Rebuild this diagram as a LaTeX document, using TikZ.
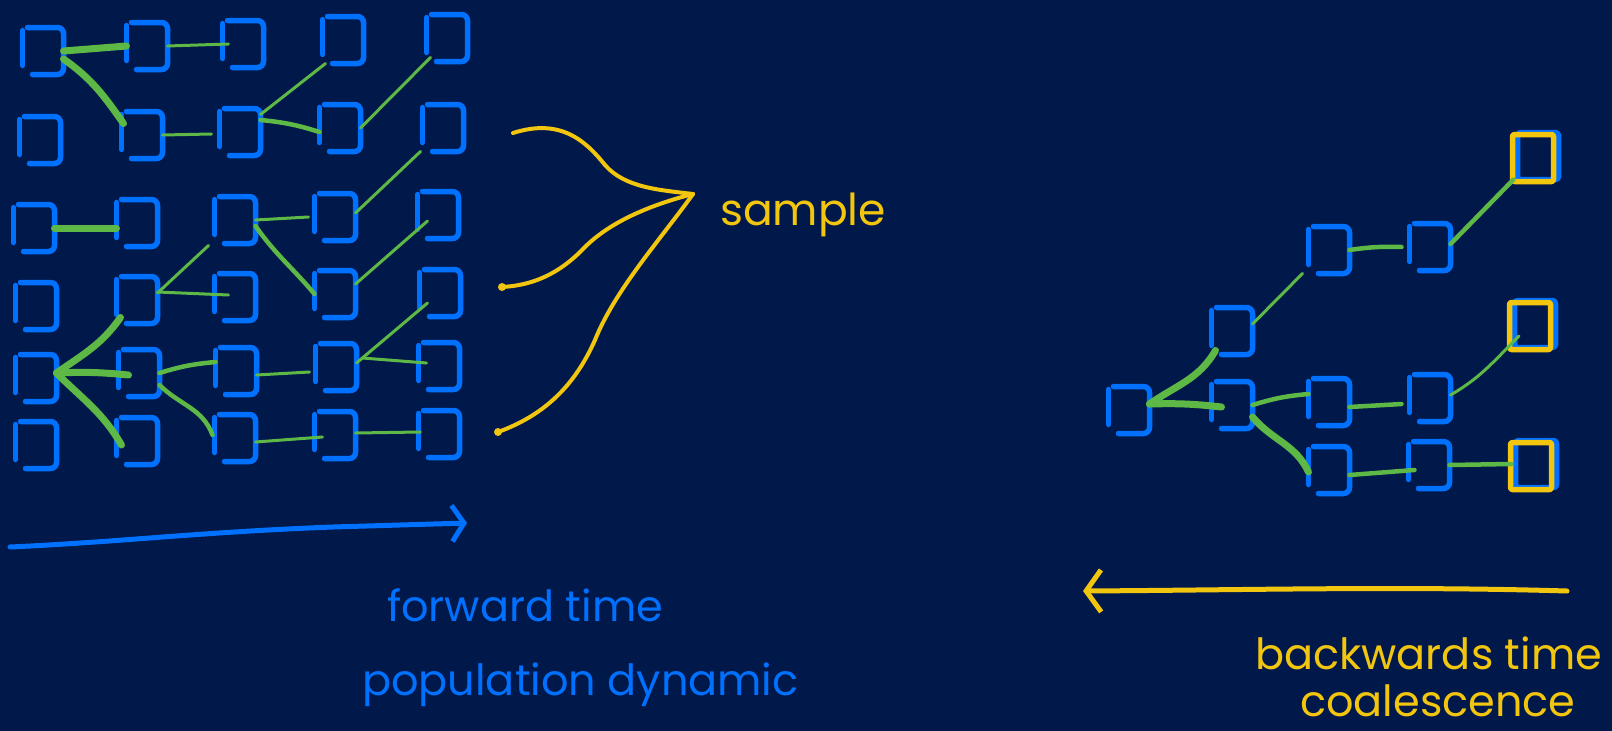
\documentclass[tikz,border=0pt]{standalone}
\usepackage{fontspec}
\setmainfont{Poppins}
\usetikzlibrary{arrows.meta}
\definecolor{bg}{HTML}{01184A}
\definecolor{bblue}{HTML}{0070FF}
\definecolor{lgreen}{HTML}{5EB846}
\definecolor{syellow}{HTML}{F2C50F}
\tikzset{
  box/.style={minimum width=41pt, minimum height=47pt, inner sep=0pt, outer sep=0pt},
  boxline/.style={draw=bblue, line width=5.5pt, line cap=round, line join=round},
  ybox/.style={draw=syellow, line width=5.5pt, line cap=round, line join=round, rounded corners=2pt},
  thinl/.style={draw=lgreen, line width=3pt, line cap=round},
  midl/.style={draw=lgreen, line width=4.5pt, line cap=round},
  thickl/.style={draw=lgreen, line width=7pt, line cap=round},
  samplel/.style={draw=syellow, line width=4pt, line cap=round},
  lbl/.style={font=\fontsize{43pt}{50pt}\selectfont, inner sep=0pt},
}
\newcommand\handbox[1]{%
  \draw[boxline, rounded corners=6pt] ([xshift=5pt]#1.north west) -- (#1.north east) -- (#1.south east) -- ([xshift=10pt]#1.south west);
  \draw[boxline] ([yshift=-3pt]#1.north west) -- ([yshift=9pt]#1.south west);
}
\begin{document}
\begin{tikzpicture}[x=1pt, y=-1pt]
\fill[bg] (0,0) rectangle (1612,731);
\useasboundingbox (0,0) rectangle (1612,731);

% left grid
\foreach \n/\x/\y in {
  g11/43/51, g12/147/46, g13/243/44, g14/343/40, g15/447/38,
  g21/40/140, g22/142/135, g23/240/132, g24/340/128, g25/443/128,
  g31/34/228, g32/137/223, g33/235/220, g34/335/217, g35/438/215,
  g41/36/306, g42/137/300, g43/235/297, g44/335/294, g45/440/293,
  g51/36/378, g52/139/373, g53/236/371, g54/336/367, g55/439/366,
  g61/36/445, g62/137/441, g63/235/438, g64/335/435, g65/439/434}
  \node[box] (\n) at (\x,\y) {};
% right tree
\foreach \n/\x/\y in {
  t1/1129/410, t2/1232/331, t3/1329/250, t4/1430/247, t5/1538/156,
  t6/1232/405, t7/1329/402, t8/1430/398, t9/1535/324,
  t10/1329/470, t11/1429/465, t12/1536/464}
  \node[box] (\n) at (\x,\y) {};

\foreach \n in {g11,g12,g13,g14,g15,g21,g22,g23,g24,g25,g31,g32,g33,g34,g35,
  g41,g42,g43,g44,g45,g51,g52,g53,g54,g55,g61,g62,g63,g64,g65,
  t1,t2,t3,t4,t6,t7,t8,t10,t11}
  {\handbox{\n}}
\foreach \n in {t5,t9,t12}
  {\draw[boxline, rounded corners=3pt] (\n.north west) rectangle (\n.south east);
   \draw[ybox] ([xshift=-5pt,yshift=-2pt]\n.north west) rectangle ([xshift=-5pt,yshift=-2pt]\n.south east);}

% green connectors, left grid
\draw[thickl] (g11.east) -- (g12.west);
\draw[thickl] ([yshift=-8pt]g11.east) to[out=-35,in=125] ([xshift=2pt,yshift=-12pt]g22.north west);
\draw[thinl] (g12.east) -- ([xshift=6pt]g13.west);
\draw[thinl] (g22.east) -- ([xshift=-8pt,yshift=-2pt]g23.west);
\draw[thinl] ([yshift=-6pt]g23.north east) -- ([xshift=3pt]g14.south west);
\draw[midl] ([yshift=12pt]g23.east) to[bend left=6] ([yshift=-4pt]g24.west);
\draw[thinl] (g24.east) -- ([xshift=4pt,yshift=4pt]g15.south west);
\draw[thickl] (g31.east) -- ([yshift=-5pt]g32.west);
\draw[thinl] (g33.east) -- ([xshift=-6pt]g34.west);
\draw[thinl] ([yshift=4pt]g34.east) -- ([xshift=-2pt]g25.south west);
\draw[midl] ([yshift=-6pt]g33.east) to[out=-55,in=130] (g44.west);
\draw[thinl] ([xshift=10pt,yshift=-6pt]g35.west) -- ([yshift=10pt]g44.east);
\draw[thinl] ([yshift=7pt]g42.east) -- ([xshift=-6pt,yshift=-2pt]g33.south west);
\draw[thinl] ([yshift=8pt]g42.east) -- ([xshift=14pt,yshift=2pt]g43.west);
\draw[thickl] ([yshift=5pt]g51.east) to[out=35,in=-125] ([xshift=4pt,yshift=6pt]g42.south west);
\draw[thickl] ([yshift=5pt]g51.east) to[bend left=4] ([xshift=10pt,yshift=-2pt]g52.west);
\draw[thickl] ([yshift=5pt]g51.east) to[out=-45,in=120] ([xshift=5pt,yshift=-4pt]g62.west);
\draw[midl] (g52.east) to[bend left=6] ([yshift=9pt]g53.west);
\draw[midl] ([yshift=-12pt]g52.east) to[out=-45,in=110] ([xshift=-2pt,yshift=3pt]g63.west);
\draw[thinl] ([yshift=-4pt]g53.east) -- ([xshift=-6pt,yshift=-5pt]g54.west);
\draw[thinl] ([yshift=4pt]g54.east) -- ([xshift=8pt,yshift=-10pt]g45.west);
\draw[thinl] ([xshift=6pt,yshift=9pt]g54.east) -- ([xshift=8pt,yshift=3pt]g55.west);
\draw[thinl] ([yshift=-4pt]g63.east) -- ([xshift=8pt,yshift=-2pt]g64.west);
\draw[thinl] ([yshift=2pt]g64.east) -- ([xshift=2pt,yshift=2pt]g65.west);

% green connectors, right tree
\draw[thickl] ([yshift=6pt]t1.east) to[out=35,in=-120] ([xshift=4pt,yshift=4pt]t2.south west);
\draw[thickl] ([yshift=6pt]t1.east) to[bend left=4] ([xshift=10pt,yshift=-2pt]t6.west);
\draw[thinl] ([yshift=7pt]t2.east) -- ([xshift=-6pt]t3.south west);
\draw[midl] (t3.east) to[bend left=5] ([xshift=-8pt]t4.west);
\draw[midl] ([yshift=3pt]t4.east) -- ([xshift=-4pt]t5.south west);
\draw[midl] (t6.east) to[bend left=6] ([yshift=8pt]t7.west);
\draw[thickl] ([yshift=-12pt]t6.east) to[out=-50,in=115] ([yshift=-2pt]t10.west);
\draw[midl] ([yshift=-5pt]t7.east) -- ([xshift=-8pt,yshift=-6pt]t8.west);
\draw[thinl] ([yshift=3pt]t8.east) to[out=30,in=-135] ([xshift=-16pt,yshift=-12pt]t9.center);
\draw[midl] ([yshift=-5pt]t10.east) -- ([xshift=6pt,yshift=-5pt]t11.west);
\draw[midl] (t11.east) -- ([xshift=-4pt]t12.west);

% sample curves
\coordinate (sp) at (693,194);
\coordinate (s1) at (513,133);
\coordinate (s2) at (502,287);
\coordinate (s3) at (498,432);
\draw[samplel] (s1) .. controls (560,118) and (585,140) .. (605,165) .. controls (625,188) and (660,190) .. (sp);
\draw[samplel] (s2) .. controls (540,285) and (565,268) .. (585,247) .. controls (610,222) and (650,205) .. (sp);
\draw[samplel] (s3) .. controls (545,415) and (575,385) .. (595,340) .. controls (615,290) and (660,240) .. (sp);
\fill[syellow] (s2) circle (4pt);
\fill[syellow] (s3) circle (4pt);

% time arrows
\coordinate (fa) at (10,547);
\coordinate (fb) at (467,523);
\draw[draw=bblue, line width=5pt, line cap=round, -{Straight Barb[length=12pt, width=36pt]}]
  (fa) .. controls (120,542) and (200,532) .. (333,527) -- (fb);
\coordinate (ba) at (1567,591);
\coordinate (bb) at (1083,591);
\draw[draw=syellow, line width=5pt, line cap=round, -{Straight Barb[length=15pt, width=42pt]}]
  (ba) .. controls (1400,586) and (1250,590) .. (bb);

% labels
\node[lbl, text=syellow, anchor=base west] (smp) at (720,225) {\fontsize{44pt}{50pt}\selectfont sample};
\node[lbl, text=bblue, anchor=base west] (fwd) at (387,621) {forward time};
\node[lbl, text=bblue, anchor=base west] (pop) at (362,695) {population dynamic};
\node[lbl, text=syellow, anchor=base west] (bwd) at (1255,669) {backwards time};
\node[lbl, text=syellow, anchor=base west] (coa) at (1300,716) {coalescence};
\end{tikzpicture}
\end{document}
